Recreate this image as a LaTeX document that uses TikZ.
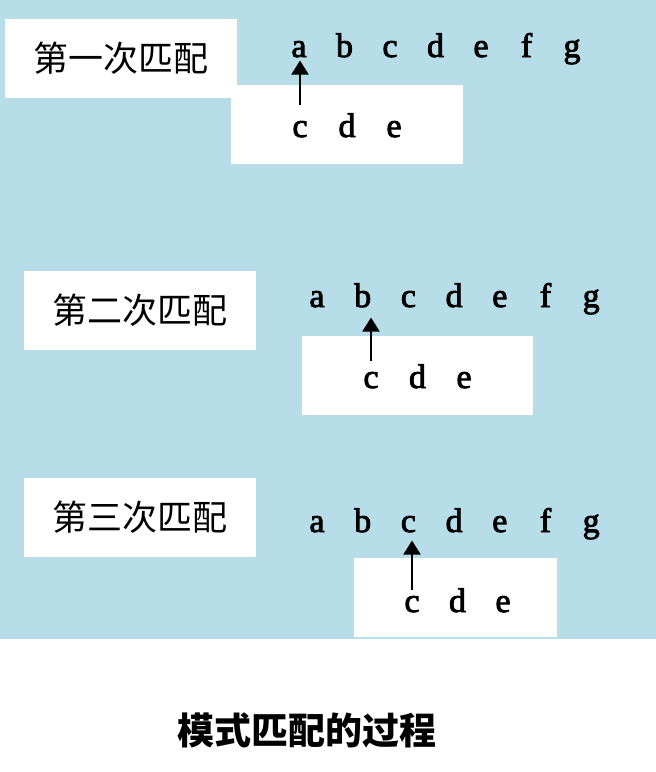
\documentclass[tikz,border=0pt]{standalone}
\usepackage{fontspec}
\setmainfont{Liberation Serif}
\newfontfamily\latin[FakeBold=2.5]{Liberation Serif}
\newfontfamily\cjk{Noto Sans CJK SC}
\usetikzlibrary{arrows.meta}
\definecolor{bgblue}{RGB}{183,221,232}

\begin{document}
\begin{tikzpicture}[x=1pt,y=-1pt,
		labelbox/.style={fill=white, minimum width=232pt, minimum height=79pt, inner sep=0pt, font=\cjk\fontsize{35}{35}\selectfont},
		patbox/.style={fill=white, minimum height=79pt, inner sep=0pt},
		letter/.style={anchor=base, inner sep=1pt, font=\latin\fontsize{34}{34}\selectfont},
		ptr/.style={-{Triangle[width=17pt,length=14pt]}, line width=2pt}]
		\useasboundingbox (0,0) rectangle (656,772);
		\fill[color=bgblue] (0,0) rectangle (656,639);
		% first match
		\node[labelbox] (lab1) at (121,58.5) {第一次匹配};
		\node[patbox, minimum width=232pt] (pat1) at (347,124) {};
		\foreach \ch [count=\i from 0] in {a,b,c,d,e,f,g} {
			\node[letter] (t1\ch) at (299+45.5*\i, 57) {\ch};
		}
		\foreach \ch [count=\i from 0] in {c,d,e} {
			\node[letter] (p1\ch) at (300+47*\i, 137) {\ch};
		}
		\draw[ptr, shorten <=15pt, shorten >=2pt] (p1c.north) -- (p1c.north |- t1a.south);
		% second match
		\node[labelbox] (lab2) at (140,310) {第二次匹配};
		\node[patbox, minimum width=231pt] (pat2) at (417.5,375.5) {};
		\foreach \ch [count=\i from 0] in {a,b,c,d,e,f,g} {
			\node[letter] (t2\ch) at (317+45.7*\i, 307) {\ch};
		}
		\foreach \ch [count=\i from 0] in {c,d,e} {
			\node[letter] (p2\ch) at (371+46.5*\i, 388) {\ch};
		}
		\draw[ptr, shorten <=10pt, shorten >=9pt] (p2c.north) -- (p2c.north |- t2b.south);
		% third match
		\node[labelbox] (lab3) at (140,517.5) {第三次匹配};
		\node[patbox, minimum width=203pt] (pat3) at (455.5,597.5) {};
		\foreach \ch [count=\i from 0] in {a,b,c,d,e,f,g} {
			\node[letter] (t3\ch) at (317+45.7*\i, 532) {\ch};
		}
		\foreach \ch [count=\i from 0] in {c,d,e} {
			\node[letter] (p3\ch) at (412+45.5*\i, 612) {\ch};
		}
		\draw[ptr, shorten <=5pt, shorten >=7pt] (p3c.north) -- (p3c.north |- t3c.south);
		\node[font=\cjk\bfseries\fontsize{37}{37}\selectfont] (cap) at (307,730) {模式匹配的过程};
	\end{tikzpicture}
\end{document}
